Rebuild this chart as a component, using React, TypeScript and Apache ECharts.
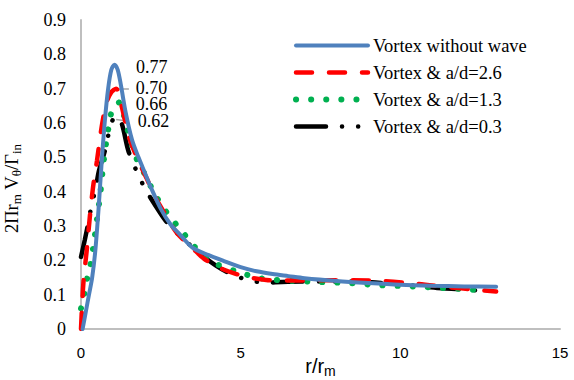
import React, { useEffect, useRef } from "react";
import * as echarts from "echarts";

const seriesNames = [
  "Vortex without wave",
  "Vortex & a/d=2.6",
  "Vortex & a/d=1.3",
  "Vortex & a/d=0.3",
];

const xTicks = [0, 5, 10, 15];
const yTicks = [0, 0.1, 0.2, 0.3, 0.4, 0.5, 0.6, 0.7, 0.8, 0.9];

const rNoWave = [0.05, 0.15, 0.25, 0.35, 0.45, 0.55, 0.65, 0.75, 0.85, 0.95, 1.05, 1.15, 1.25, 1.4, 1.6, 1.8, 2.0, 2.2, 2.5, 2.8, 3.1, 3.5, 4.0, 4.5, 5.0, 5.5, 6.0, 6.5, 7.0, 8.0, 9.0, 10.0, 11.0, 12.0, 13.0];
const vNoWave = [0.0, 0.05, 0.1, 0.15, 0.23, 0.35, 0.49, 0.61, 0.7, 0.755, 0.77, 0.755, 0.71, 0.63, 0.55, 0.5, 0.455, 0.41, 0.35, 0.305, 0.275, 0.236, 0.215, 0.197, 0.18, 0.168, 0.16, 0.154, 0.148, 0.14, 0.134, 0.129, 0.126, 0.124, 0.123];

const rAd26 = [0, 0.03, 0.08, 0.18, 0.28, 0.38, 0.5, 0.65, 0.8, 0.95, 1.1, 1.27, 1.5, 1.75, 2.05, 2.35, 2.6, 3.0, 3.5, 3.85, 4.3, 4.8, 5.3, 5.8, 6.5, 7.5, 8.5, 9.5, 10.5, 11.5, 12.3, 13.0];
const vAd26 = [0, 0.06, 0.14, 0.23, 0.33, 0.415, 0.49, 0.59, 0.66, 0.69, 0.7, 0.65, 0.56, 0.5, 0.44, 0.38, 0.34, 0.28, 0.235, 0.205, 0.18, 0.162, 0.15, 0.143, 0.141, 0.142, 0.142, 0.139, 0.132, 0.122, 0.115, 0.109];

const rAd13 = [0, 0.1, 0.2, 0.3, 0.4, 0.5, 0.6, 0.7, 0.85, 1.0, 1.2, 1.4, 1.7, 2.0, 2.3, 2.6, 2.95, 3.2, 3.5, 4.1, 4.9, 5.6, 6.1, 7.2, 8.3, 9.3, 10.4, 11.4, 12.0, 12.7];
const vAd13 = [0.06, 0.1, 0.15, 0.19, 0.25, 0.32, 0.39, 0.48, 0.58, 0.645, 0.66, 0.6, 0.505, 0.45, 0.395, 0.35, 0.308, 0.28, 0.245, 0.196, 0.167, 0.148, 0.143, 0.138, 0.134, 0.128, 0.124, 0.119, 0.116, 0.111];

const rAd03 = [0, 0.12, 0.23, 0.33, 0.46, 0.56, 0.75, 0.95, 1.1, 1.27, 1.48, 1.74, 2.0, 2.3, 2.63, 3.0, 3.35, 3.77, 4.24, 4.76, 5.25, 5.75, 6.3, 6.9, 7.5, 8.5, 9.1, 9.7, 10.2, 10.8, 11.3, 11.9, 12.4];
const vAd03 = [0.21, 0.26, 0.31, 0.36, 0.41, 0.46, 0.52, 0.6, 0.62, 0.6, 0.52, 0.46, 0.41, 0.364, 0.318, 0.28, 0.25, 0.216, 0.184, 0.157, 0.143, 0.135, 0.137, 0.138, 0.138, 0.138, 0.136, 0.131, 0.128, 0.123, 0.119, 0.116, 0.112];

const peakLabels = ["0.77", "0.70", "0.66", "0.62"];

const SERIF = "Liberation Serif";
const SANS = "Liberation Sans";

function zip(r: number[], v: number[]) {
  return r.map((x, i) => [x, v[i]]);
}

function peakOf(r: number[], v: number[]) {
  let k = 0;
  v.forEach((y, i) => {
    if (y > v[k]) k = i;
  });
  return [r[k], v[k]];
}

export default function App() {
  const ref = useRef<HTMLDivElement>(null);

  useEffect(() => {
    if (!ref.current) return;
    const chart = echarts.init(ref.current, undefined, { renderer: "svg" });

    const all = [
      { r: rNoWave, v: vNoWave, color: "#4F81BD", type: "solid" as any, width: 4, cap: "round", off: [21, 2], lead: null as any },
      { r: rAd26, v: vAd26, color: "#FF0000", type: [16, 17], width: 4.5, cap: "round", off: [19, -1], lead: [0.0, 0.4] },
      { r: rAd13, v: vAd13, color: "#00B050", type: [0.1, 15], width: 6, cap: "round", off: [16, 2], lead: null },
      { r: rAd03, v: vAd03, color: "#000000", type: [30, 16, 0.1, 16, 0.1, 16], width: 4.5, cap: "round", off: [21, 5], lead: [0.0, 0.4] },
    ];

    const series = all.map((s, i) => {
      const pk = peakOf(s.r, s.v);
      const out: any = {
        name: seriesNames[i],
        type: "line",
        data: zip(s.r, s.v),
        smooth: 0.3,
        symbol: "none",
        showSymbol: false,
        z: 10 - i,
        lineStyle: { color: s.color, width: s.width, type: s.type, cap: s.cap },
        itemStyle: { color: s.color },
        markPoint: {
          symbol: "circle",
          symbolSize: 1,
          itemStyle: { color: "rgba(0,0,0,0)" },
          silent: true,
          data: [{ coord: pk, value: peakLabels[i] }],
          label: {
            show: true,
            position: "right",
            distance: 0,
            offset: s.off,
            formatter: peakLabels[i],
            fontFamily: SERIF,
            fontSize: 18,
            lineHeight: 16,
            color: "#000",
          },
        },
      };
      if (s.lead) {
        out.markLine = {
          silent: true,
          symbol: "none",
          label: { show: false },
          lineStyle: { color: "#A6A6A6", width: 1.5, type: "solid" },
          data: [
            [
              { coord: [pk[0] + s.lead[0], pk[1] - (i === 3 ? 0.01 : 0)] },
              { coord: [pk[0] + s.lead[1], pk[1] - (i === 3 ? 0.015 : 0)] },
            ],
          ],
        };
      }
      return out;
    });

    const legendData = all.map((s, i) => ({
      name: seriesNames[i],
      itemStyle: { opacity: 0 },
      lineStyle: { color: s.color, width: s.width, type: s.type, cap: s.cap },
    }));

    chart.setOption({
      animation: false,
      backgroundColor: "#ffffff",
      grid: { left: 81, right: 14, top: 20, bottom: 51, containLabel: false, outerBoundsMode: "none" },
      legend: {
        orient: "vertical",
        left: 288,
        top: 31,
        itemWidth: 72,
        itemHeight: 10,
        itemGap: 8,
        data: legendData,
        itemStyle: { opacity: 0 },
        textStyle: { fontFamily: SERIF, fontSize: 18.5, color: "#000" },
      },
      xAxis: {
        type: "value",
        min: xTicks[0],
        max: xTicks[xTicks.length - 1],
        interval: 5,
        splitLine: { show: false },
        axisTick: { show: false },
        axisLine: { show: true, lineStyle: { color: "#BFBFBF", width: 2 } },
        axisLabel: { fontFamily: SANS, fontSize: 15, color: "#000", margin: 16 },
        name: "{n|r/r}{s|m}",
        nameLocation: "middle",
        nameGap: 25,
        nameMoveOverlap: false,
        nameTextStyle: {
          rich: {
            n: { fontFamily: SANS, fontSize: 20, color: "#000", lineHeight: 24 },
            s: { fontFamily: SANS, fontSize: 14, color: "#000", lineHeight: 10, verticalAlign: "bottom" },
          },
        },
      },
      yAxis: {
        type: "value",
        min: yTicks[0],
        max: yTicks[yTicks.length - 1],
        interval: 0.1,
        splitLine: { show: false },
        axisTick: { show: false },
        axisLine: { show: true, lineStyle: { color: "#BFBFBF", width: 2 } },
        axisLabel: {
          fontFamily: SERIF,
          fontSize: 18,
          color: "#000",
          margin: 15,
          formatter: (v: number) => (v === 0 ? "0" : v.toFixed(1)),
        },
        name: "{n|2Πr}{s|m}{n| V}{s|θ}{n|/Γ}{s|in}{g| }",
        nameLocation: "middle",
        nameRotate: 90,
        nameGap: 58,
        nameMoveOverlap: false,
        nameTextStyle: {
          rich: {
            n: { fontFamily: SERIF, fontSize: 18.5, color: "#000", lineHeight: 22 },
            s: { fontFamily: SERIF, fontSize: 13, color: "#000", lineHeight: 9, verticalAlign: "bottom" },
            g: { fontFamily: SERIF, fontSize: 13, color: "rgba(0,0,0,0)", width: 28, lineHeight: 9 },
          },
        },
      },
      series,
    });

    return () => chart.dispose();
  }, []);

  return <div ref={ref} style={{ width: 574, height: 380, position: "absolute", left: 0, top: 0, background: "#fff" }} />;
}
